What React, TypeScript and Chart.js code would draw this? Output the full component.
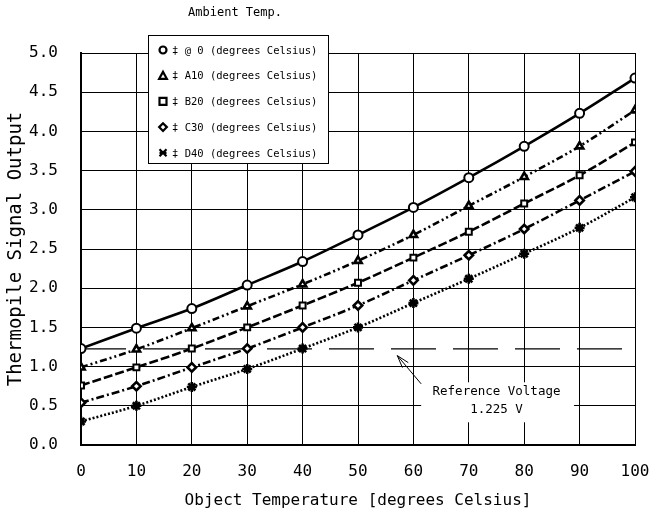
import React, { useEffect, useRef } from 'react';
import { Chart, registerables } from 'chart.js';

Chart.register(...registerables);

// ---- data ----
const objectTemps = [0, 10, 20, 30, 40, 50, 60, 70, 80, 90, 100];
const amb0 = [1.23, 1.49, 1.74, 2.04, 2.34, 2.68, 3.03, 3.41, 3.81, 4.23, 4.68];
const amb10 = [0.99, 1.22, 1.49, 1.77, 2.05, 2.35, 2.68, 3.05, 3.42, 3.81, 4.27];
const amb20 = [0.76, 0.99, 1.23, 1.5, 1.78, 2.07, 2.39, 2.72, 3.08, 3.44, 3.86];
const amb30 = [0.54, 0.75, 0.99, 1.23, 1.5, 1.78, 2.1, 2.42, 2.755, 3.12, 3.49];
const amb40 = [0.3, 0.5, 0.74, 0.97, 1.23, 1.5, 1.81, 2.12, 2.44, 2.77, 3.16];
const seriesLabels = [
  '‡ @ 0 (degrees Celsius)',
  '‡ A10 (degrees Celsius)',
  '‡ B20 (degrees Celsius)',
  '‡ C30 (degrees Celsius)',
  '‡ D40 (degrees Celsius)',
];
const referenceVoltage = 1.225;
const referenceLabel = ['Reference Voltage', '1.225 V'];
const legendTitle = 'Ambient Temp.';
const xTitle = 'Object Temperature [degrees Celsius]';
const yTitle = 'Thermopile Signal Output';

// ---- styling / placement (not data) ----
const FONT = "'DejaVu Sans Mono', 'Liberation Mono', monospace";
const seriesValues = [amb0, amb10, amb20, amb30, amb40];
const pointStyles = ['circle', 'triangle', 'rect', 'rectRot', 'star'] as const;
const pointRadii = [4.5, 4.2, 4.2, 4.2, 5];
const dashes = [[], [7, 3, 2, 3, 2, 3], [9, 3], [8, 3, 2, 3], [2, 2]];
const ANN_BOX = { x0: 61.4, x1: 89, y0: 0.8, y1: 0.29 };
const ANN_TEXT = { x: 75, y1: 0.68, y2: 0.45 };
const ARROW = { fromX: 61.4, fromY: 0.78, toX: 57.1, toY: 1.14 };

function drawMarker(ctx: CanvasRenderingContext2D, style: string, x: number, y: number, r: number) {
  ctx.save();
  ctx.beginPath();
  ctx.lineWidth = 2.2;
  ctx.strokeStyle = '#000';
  ctx.fillStyle = '#fff';
  if (style === 'circle') {
    ctx.arc(x, y, r, 0, Math.PI * 2);
    ctx.fill();
    ctx.stroke();
  } else if (style === 'triangle') {
    const h = r * 1.1;
    ctx.moveTo(x, y - h);
    ctx.lineTo(x + h, y + h * 0.8);
    ctx.lineTo(x - h, y + h * 0.8);
    ctx.closePath();
    ctx.fill();
    ctx.stroke();
  } else if (style === 'rect') {
    ctx.rect(x - r, y - r, 2 * r, 2 * r);
    ctx.fill();
    ctx.stroke();
  } else if (style === 'rectRot') {
    ctx.moveTo(x, y - r * 1.1);
    ctx.lineTo(x + r * 1.1, y);
    ctx.lineTo(x, y + r * 1.1);
    ctx.lineTo(x - r * 1.1, y);
    ctx.closePath();
    ctx.fill();
    ctx.stroke();
  } else {
    ctx.moveTo(x - r, y - r);
    ctx.lineTo(x + r, y + r);
    ctx.moveTo(x + r, y - r);
    ctx.lineTo(x - r, y + r);
    ctx.moveTo(x - r, y);
    ctx.lineTo(x + r, y);
    ctx.stroke();
  }
  ctx.restore();
}

const overlayPlugin = {
  id: 'overlay',
  beforeDatasetsDraw(chart: any) {
    const { ctx, scales } = chart;
    const xs = scales.x;
    const ys = scales.y;
    ctx.save();
    // white annotation box
    const bx0 = xs.getPixelForValue(ANN_BOX.x0);
    const bx1 = xs.getPixelForValue(ANN_BOX.x1);
    const by0 = ys.getPixelForValue(ANN_BOX.y0);
    const by1 = ys.getPixelForValue(ANN_BOX.y1);
    ctx.fillStyle = '#fff';
    ctx.fillRect(bx0, by0, bx1 - bx0, by1 - by0);
    ctx.fillStyle = '#000';
    ctx.font = `12.5px ${FONT}`;
    ctx.textAlign = 'center';
    ctx.textBaseline = 'middle';
    const tx = xs.getPixelForValue(ANN_TEXT.x);
    ctx.fillText(referenceLabel[0], tx, ys.getPixelForValue(ANN_TEXT.y1));
    ctx.fillText(referenceLabel[1], tx, ys.getPixelForValue(ANN_TEXT.y2));
    // arrow
    const ax0 = xs.getPixelForValue(ARROW.fromX);
    const ay0 = ys.getPixelForValue(ARROW.fromY);
    const ax1 = xs.getPixelForValue(ARROW.toX);
    const ay1 = ys.getPixelForValue(ARROW.toY);
    ctx.strokeStyle = '#000';
    ctx.lineWidth = 1;
    ctx.beginPath();
    ctx.moveTo(ax0, ay0);
    ctx.lineTo(ax1, ay1);
    const ang = Math.atan2(ay0 - ay1, ax0 - ax1);
    const L = 13;
    for (const d of [-0.3, 0.3]) {
      ctx.moveTo(ax1, ay1);
      ctx.lineTo(ax1 + L * Math.cos(ang + d), ay1 + L * Math.sin(ang + d));
    }
    ctx.stroke();
    ctx.restore();
  },
  afterDraw(chart: any) {
    const { ctx } = chart;
    ctx.save();
    // legend title
    ctx.fillStyle = '#000';
    ctx.font = `12px ${FONT}`;
    ctx.textAlign = 'center';
    ctx.textBaseline = 'middle';
    ctx.fillText(legendTitle, 235, 13);
    // legend box
    const lx = 148, ly = 35, lw = 180, lh = 128;
    ctx.fillStyle = '#fff';
    ctx.fillRect(lx, ly, lw, lh);
    ctx.strokeStyle = '#000';
    ctx.lineWidth = 1;
    ctx.strokeRect(lx + 0.5, ly + 0.5, lw, lh);
    ctx.font = `10.5px ${FONT}`;
    ctx.textAlign = 'left';
    chart.data.datasets.forEach((ds: any, i: number) => {
      if (!ds.showInLegend) return;
      const ry = 50 + i * 25.7;
      drawMarker(ctx, ds.pointStyle, 163, ry, 3.5);
      ctx.fillStyle = '#000';
      ctx.fillText(ds.label, 172, ry + 1);
    });
    ctx.restore();
  },
};

export default function App() {
  const ref = useRef<HTMLCanvasElement>(null);
  useEffect(() => {
    const datasets: any[] = seriesValues.map((vals, i) => ({
      label: seriesLabels[i],
      data: objectTemps.map((x, j) => ({ x, y: vals[j] })),
      borderColor: '#000',
      backgroundColor: '#000',
      borderWidth: 2.6,
      borderDash: dashes[i],
      pointStyle: pointStyles[i],
      pointRadius: pointRadii[i],
      pointBorderWidth: i === 0 || i === 2 ? 2 : 2.6,
      pointBorderColor: '#000',
      pointBackgroundColor: '#fff',
      cubicInterpolationMode: 'monotone',
      showInLegend: true,
    }));
    datasets.push({
      label: 'Reference Voltage',
      data: [
        { x: objectTemps[0], y: referenceVoltage },
        { x: objectTemps[objectTemps.length - 1], y: referenceVoltage },
      ],
      borderColor: '#000',
      borderWidth: 1.2,
      borderDash: [45, 17],
      pointRadius: 0,
      showInLegend: false,
    });
    const chart = new Chart(ref.current!, {
      type: 'line',
      data: { datasets },
      plugins: [overlayPlugin],
      options: {
        animation: false,
        responsive: true,
        maintainAspectRatio: false,
        layout: { padding: { top: 53, right: 16, left: 0, bottom: 0 } },
        plugins: { legend: { display: false }, tooltip: { enabled: false } },
        scales: {
          x: {
            type: 'linear',
            min: 0,
            max: 100,
            afterFit: (s: any) => { s.height = 72; s.paddingRight = 0; s.paddingLeft = 0; },
            ticks: { stepSize: 10, color: '#000', font: { family: FONT, size: 16 }, padding: 17, maxRotation: 0 },
            grid: { color: '#000', lineWidth: 1, drawTicks: false },
            border: { color: '#000', width: 2 },
            title: { display: true, text: xTitle, color: '#000', font: { family: FONT, size: 16 }, padding: { top: 0, bottom: 7 } },
          },
          y: {
            type: 'linear',
            min: 0,
            max: 5,
            afterFit: (s: any) => { s.width = 81; s.paddingTop = 0; s.paddingBottom = 0; },
            ticks: {
              stepSize: 0.5,
              color: '#000',
              font: { family: FONT, size: 16 },
              padding: 23,
              callback: (v: any) => Number(v).toFixed(1),
            },
            grid: { color: '#000', lineWidth: 1, drawTicks: false },
            border: { color: '#000', width: 2 },
            title: { display: true, text: yTitle, color: '#000', font: { family: FONT, size: 19 }, padding: { top: 5, bottom: 0 } },
          },
        },
      } as any,
    });
    return () => chart.destroy();
  }, []);
  return (
    <div style={{ position: 'absolute', left: 0, top: 0, width: 651, height: 517, background: '#fff' }}>
      <canvas ref={ref} />
    </div>
  );
}
